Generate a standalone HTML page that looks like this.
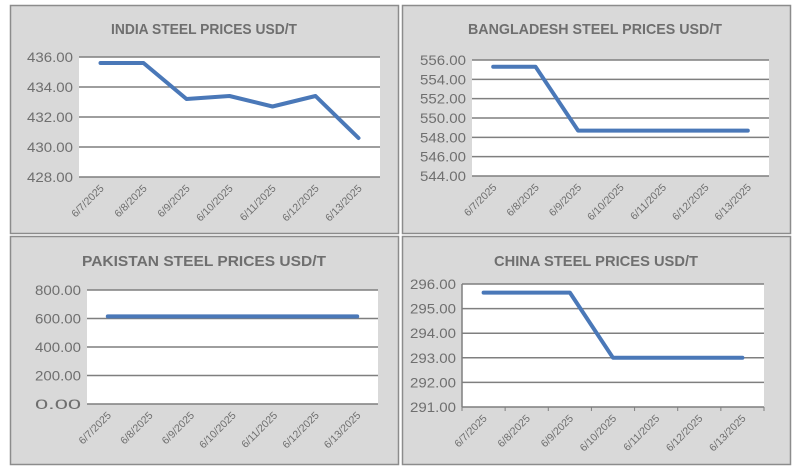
<!DOCTYPE html>
<html><head><meta charset="utf-8"><style>
html,body{margin:0;padding:0;background:#fff;width:799px;height:474px;overflow:hidden}
svg{display:block;font-family:"Liberation Sans",Arial,sans-serif}
</style></head><body>
<svg id="s" width="799" height="474"></svg>
<script>
const categories=["6/7/2025","6/8/2025","6/9/2025","6/10/2025","6/11/2025","6/12/2025","6/13/2025"];
const indiaValues=[435.6,435.6,433.2,433.4,432.7,433.4,430.6];
const bangladeshValues=[555.3,555.3,548.7,548.7,548.7,548.7,548.7];
const pakistanValues=[615,615,615,615,615,615,615];
const chinaValues=[295.65,295.65,295.65,293,293,293,293];
const indiaTicks=[428,430,432,434,436];
const bangladeshTicks=[544,546,548,550,552,554,556];
const pakistanTicks=[0,200,400,600,800];
const chinaTicks=[291,292,293,294,295,296];
const NS="http://www.w3.org/2000/svg";
const svg=document.getElementById('s');
function mk(tag,attrs,parent){const e=document.createElementNS(NS,tag);for(const k in attrs)e.setAttribute(k,attrs[k]);(parent||svg).appendChild(e);return e;}
const panels=[
 {name:"india",title:"INDIA STEEL PRICES USD/T",tl:186,box:[10,5,388,228],plot:[79,57,380,177],ticks:indiaTicks,vals:indiaValues,tx:204,ty:34,tickMarks:false},
 {name:"bangladesh",title:"BANGLADESH STEEL PRICES USD/T",tl:254,box:[402,5,388,228],plot:[472,60,769,176],ticks:bangladeshTicks,vals:bangladeshValues,tx:595,ty:34,tickMarks:false},
 {name:"pakistan",title:"PAKISTAN STEEL PRICES USD/T",tl:244,box:[10,236,388,228],plot:[87,290,378,404],ticks:pakistanTicks,vals:pakistanValues,tx:204,ty:266,tickMarks:false},
 {name:"china",title:"CHINA STEEL PRICES USD/T",tl:204,box:[402,236,388,228],plot:[462,284,764,407],ticks:chinaTicks,vals:chinaValues,tx:596,ty:266,tickMarks:true}
];
panels.forEach(p=>{
 const g=mk('g',{});
 
 
 const bg=mk('rect',{x:p.box[0]+0.5,y:p.box[1]+0.5,width:p.box[2],height:p.box[3],fill:'#d9d9d9',stroke:'#8c8c8c','stroke-width':1.5},g);
 
 
 const t=mk('text',{x:p.tx,y:p.ty,'text-anchor':'middle','font-size':15,'font-weight':'bold',fill:'#6f6f6f',textLength:p.tl,lengthAdjust:'spacingAndGlyphs'},g);
 t.textContent=p.title;
 
 
 const [x0,y0,x1,y1]=p.plot;
 const mn=p.ticks[0],mxv=p.ticks[p.ticks.length-1];
 const yS=v=>y1-(v-mn)/(mxv-mn)*(y1-y0);
 const bw=(x1-x0)/categories.length;
 const xS=i=>x0+bw*(i+0.5);
 const pr=mk('rect',{x:x0,y:y0,width:x1-x0,height:y1-y0,fill:'#fff'},g);
 
 
 p.ticks.forEach(v=>{
  const l=mk('line',{x1:x0,x2:x1,y1:yS(v),y2:yS(v),stroke:'#7f7f7f','stroke-width':1.5},g);
  
  
  const tl=mk('text',{x:x0-6,y:yS(v)+5,'text-anchor':'end','font-size':14,fill:'#6f6f6f',textLength:46,lengthAdjust:'spacingAndGlyphs'},g);
  tl.textContent=v.toFixed(2);
  
  
 });
 const ax=mk('line',{x1:x0,x2:x0,y1:y0,y2:y1,stroke:p.tickMarks?'#7f7f7f':'none','stroke-width':1.5},g);
 
 
 if(p.tickMarks){for(let i=0;i<=categories.length;i++){const tm=mk('line',{x1:x0+bw*i,x2:x0+bw*i,y1:y1,y2:y1+4,stroke:'#7f7f7f'},g);}}
 categories.forEach((c,i)=>{
  const x=xS(i)+4,y=y1+12;
  const tl=mk('text',{x:x,y:y,'text-anchor':'end','font-size':10.5,fill:'#6f6f6f',transform:`rotate(-45 ${x} ${y})`},g);
  tl.textContent=c;
  
  
 });
 const pts=p.vals.map((v,i)=>xS(i).toFixed(1)+','+yS(v).toFixed(1)).join(' ');
 const ln=mk('polyline',{points:pts,fill:'none',stroke:'#4a78b8','stroke-width':4,'stroke-linejoin':'round','stroke-linecap':'round'},g);
 
 
});
</script>
</body></html>
